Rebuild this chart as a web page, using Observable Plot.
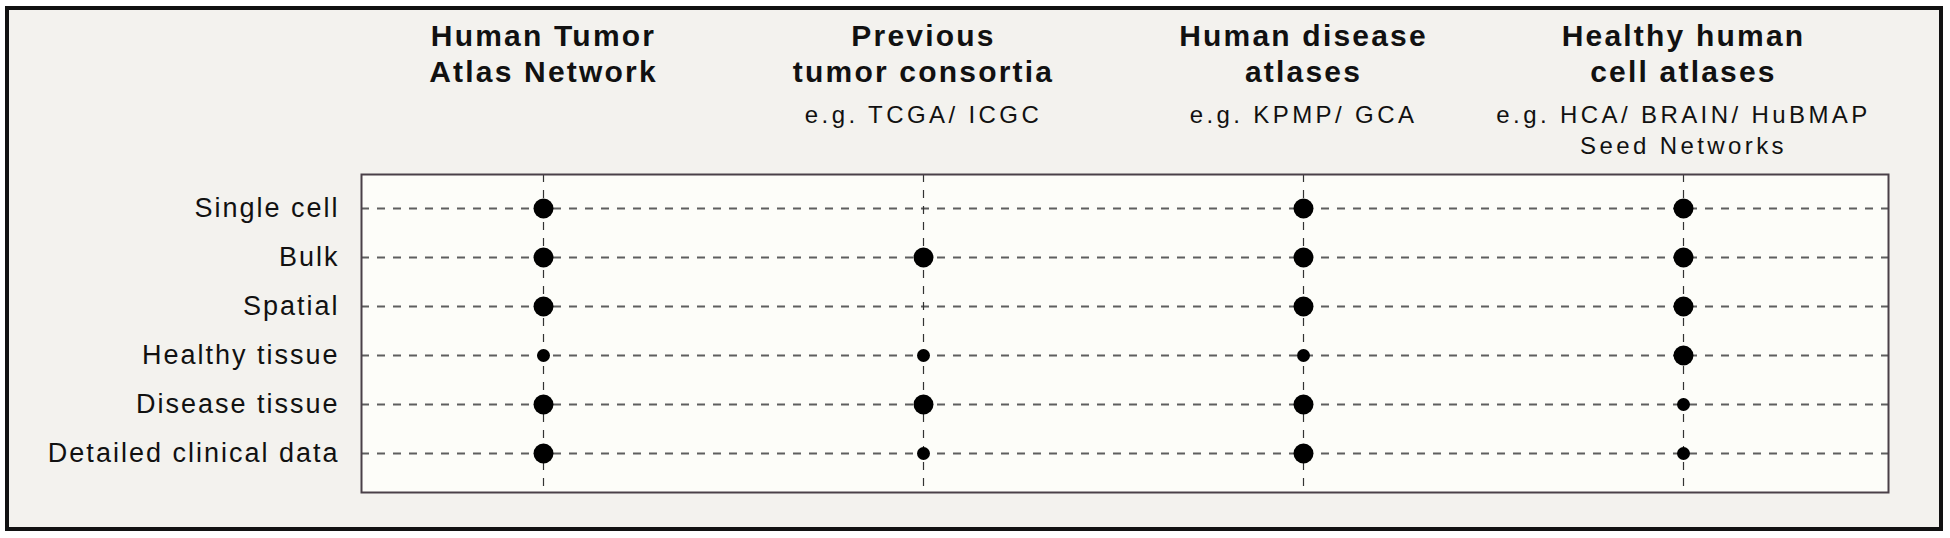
<!DOCTYPE html>
<html>
<head>
<meta charset="utf-8">
<script src="https://cdn.jsdelivr.net/npm/d3@7"></script>
<script src="https://cdn.jsdelivr.net/npm/@observablehq/plot@0.6"></script>
<style>
  html, body { margin: 0; padding: 0; background: #ffffff; }
  #wrap { position: relative; width: 1950px; height: 538px; overflow: hidden; }
  #border { position: absolute; left: 5px; top: 6px; width: 1938px; height: 525px; box-sizing: border-box;
            border: 4px solid #111; background: #f3f2ee; }
  #chart { position: absolute; left: 0; top: 0; }
  svg { font-family: "Liberation Sans", Arial, Helvetica, sans-serif; }
  g[aria-label="y-axis tick label"] text { letter-spacing: 2px; }
  g[font-weight="bold"] text { letter-spacing: 2.2px; }
  g[font-size="24"] text { letter-spacing: 3.4px; }
</style>
</head>
<body>
<div id="wrap"><div id="border"></div><div id="chart"></div></div>
<script>
// Row categories (data types)
const rows = ["Single cell", "Bulk", "Spatial", "Healthy tissue", "Disease tissue", "Detailed clinical data"];
// Column categories (consortia)
const columns = ["Human Tumor Atlas Network", "Previous tumor consortia", "Human disease atlases", "Healthy human cell atlases"];
const titles = ["Human Tumor\nAtlas Network", "Previous\ntumor consortia", "Human disease\natlases", "Healthy human\ncell atlases"];
const subtitles = ["", "e.g. TCGA/ ICGC", "e.g. KPMP/ GCA", "e.g. HCA/ BRAIN/ HuBMAP\nSeed Networks"];
// Coverage level per row: 2 = full (large dot), 1 = partial (small dot), 0 = none
const htan     = [2, 2, 2, 1, 2, 2];
const previous = [0, 2, 0, 1, 2, 1];
const disease  = [2, 2, 2, 1, 2, 2];
const healthy  = [2, 2, 2, 2, 1, 1];

const series = [htan, previous, disease, healthy];
const data = [];
series.forEach((vals, ci) => vals.forEach((v, ri) => {
  if (v > 0) data.push({col: columns[ci], row: rows[ri], level: v});
}));
const headers = columns.map((c, i) => ({col: c, title: titles[i], sub: subtitles[i]}));

const chart = Plot.plot({
  width: 1950,
  height: 538,
  marginLeft: 361,
  marginRight: 62,
  marginTop: 174,
  marginBottom: 46,
  style: {background: "transparent", fontFamily: '"Liberation Sans", Arial, Helvetica, sans-serif', color: "#111"},
  x: {type: "point", domain: columns, padding: 0.5076, align: 0.4714, axis: null},
  y: {type: "point", domain: rows, padding: 0.70, align: 0.47, label: null},
  r: {type: "linear", domain: [1, 2], range: [6.5, 10]},
  marks: [
    Plot.frame({fill: "#fdfdf9", stroke: "none"}),
    Plot.ruleY(rows, {y: d => d, stroke: "#5f5f5f", strokeWidth: 2, strokeDasharray: "8,8"}),
    Plot.ruleX(columns, {x: d => d, stroke: "#333", strokeWidth: 1.2, strokeDasharray: "8,8"}),
    Plot.frame({stroke: "#4a4048", strokeWidth: 2}),
    Plot.dot(data, {x: "col", y: "row", r: "level", fill: "#000", stroke: "none"}),
    Plot.axisY({tickSize: 0, tickPadding: 22, fontSize: 27, label: null}),
    Plot.text(headers, {x: "col", text: "title", frameAnchor: "top", lineAnchor: "top",
      dy: -154.5, fontSize: 30, fontWeight: "bold", lineHeight: 1.2, fill: "#111"}),
    Plot.text(headers, {x: "col", text: "sub", frameAnchor: "top", lineAnchor: "top",
      dy: -73, fontSize: 24, lineHeight: 1.28, fill: "#111"})
  ]
});
document.getElementById("chart").appendChild(chart);
</script>
</body>
</html>
